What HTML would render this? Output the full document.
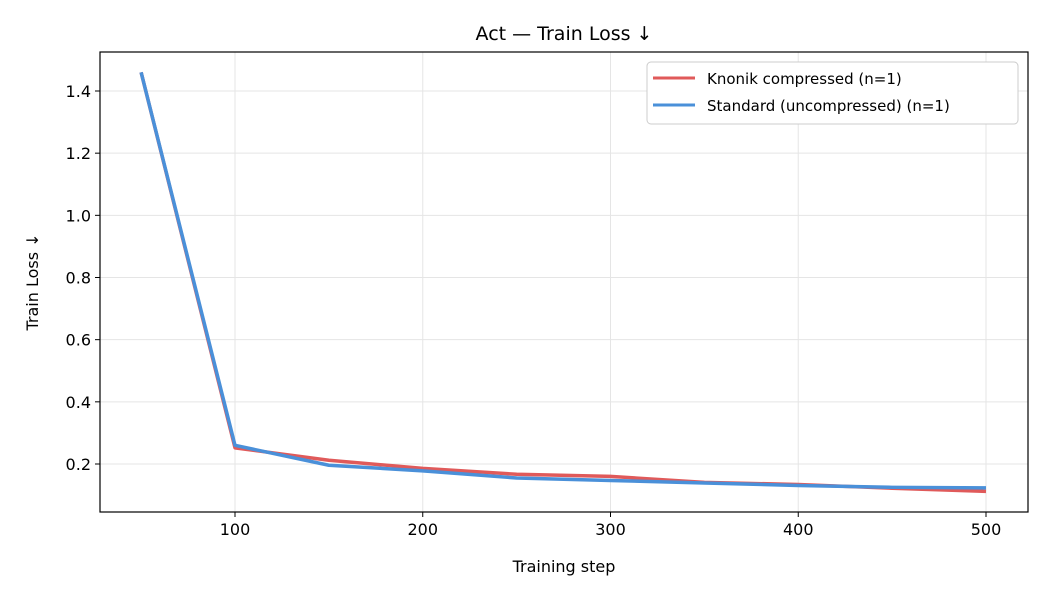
<!DOCTYPE html>
<html><head><meta charset="utf-8"><style>
body{margin:0;background:#fff;}
svg{font-family:"DejaVu Sans","Liberation Sans",sans-serif;}
</style></head><body>
<svg id="c" width="1050" height="600" xmlns="http://www.w3.org/2000/svg"></svg>
<script>
const steps=[50,100,150,200,250,300,350,400,450,500];
const knonik=[1.46,0.252,0.212,0.186,0.167,0.160,0.141,0.134,0.122,0.112];
const standard=[1.46,0.260,0.196,0.178,0.155,0.147,0.139,0.131,0.125,0.123];
const xTicks=[100,200,300,400,500];
const yTicks=[0.2,0.4,0.6,0.8,1.0,1.2,1.4];
const L=100,R=1028,T=52,B=512;
const X=v=>235+(v-100)*(986-235)/400;
const Y=v=>464-(v-0.2)*(464-91)/1.2;
const svg=document.getElementById('c');
const NS='http://www.w3.org/2000/svg';
function mk(tag,a,txt){const e=document.createElementNS(NS,tag);for(const k in a)e.setAttribute(k,a[k]);if(txt!=null)e.textContent=txt;svg.appendChild(e);return e;}
let e;
e=mk('rect',{x:0,y:0,width:1050,height:600,fill:'#fff'});


xTicks.forEach(t=>{
 e=mk('line',{x1:X(t),x2:X(t),y1:T,y2:B,stroke:'#e5e5e5','stroke-width':1});
 
 
 e=mk('line',{x1:X(t),x2:X(t),y1:B,y2:B+5,stroke:'#000'});
 
 
 e=mk('text',{x:X(t),y:B+23,'text-anchor':'middle','font-size':16},t);
 
 
});
yTicks.forEach(t=>{
 e=mk('line',{x1:L,x2:R,y1:Y(t),y2:Y(t),stroke:'#e5e5e5','stroke-width':1});
 
 
 e=mk('line',{x1:L-5,x2:L,y1:Y(t),y2:Y(t),stroke:'#000'});
 
 
 e=mk('text',{x:L-9,y:Y(t)+6,'text-anchor':'end','font-size':16},t.toFixed(1));
 
 
});
function line(vals,color,name){
 e=mk('polyline',{points:steps.map((s,i)=>X(s)+','+Y(vals[i])).join(' '),fill:'none',stroke:color,'stroke-width':3.5,'stroke-linejoin':'round'});
 
 
}
line(knonik,'#e05a5a','knonik-line');
line(standard,'#4a90d9','standard-line');
e=mk('rect',{x:L,y:T,width:R-L,height:B-T,fill:'none',stroke:'#000','stroke-width':1.2});


e=mk('text',{x:564,y:40,'text-anchor':'middle','font-size':19},'Act — Train Loss ↓');


e=mk('text',{x:564,y:572,'text-anchor':'middle','font-size':16},'Training step');


e=mk('text',{x:38,y:282,'text-anchor':'middle','font-size':16,transform:'rotate(-90 38 282)'},'Train Loss ↓');


e=mk('rect',{x:647,y:62,width:371,height:62,rx:4,fill:'#fff',stroke:'#ccc'});


e=mk('line',{x1:653,x2:695,y1:78,y2:78,stroke:'#e05a5a','stroke-width':3});


e=mk('text',{x:707,y:84,'font-size':15},'Knonik compressed (n=1)');


e=mk('line',{x1:653,x2:695,y1:105,y2:105,stroke:'#4a90d9','stroke-width':3});


e=mk('text',{x:707,y:111,'font-size':15},'Standard (uncompressed) (n=1)');


</script>
</body></html>
